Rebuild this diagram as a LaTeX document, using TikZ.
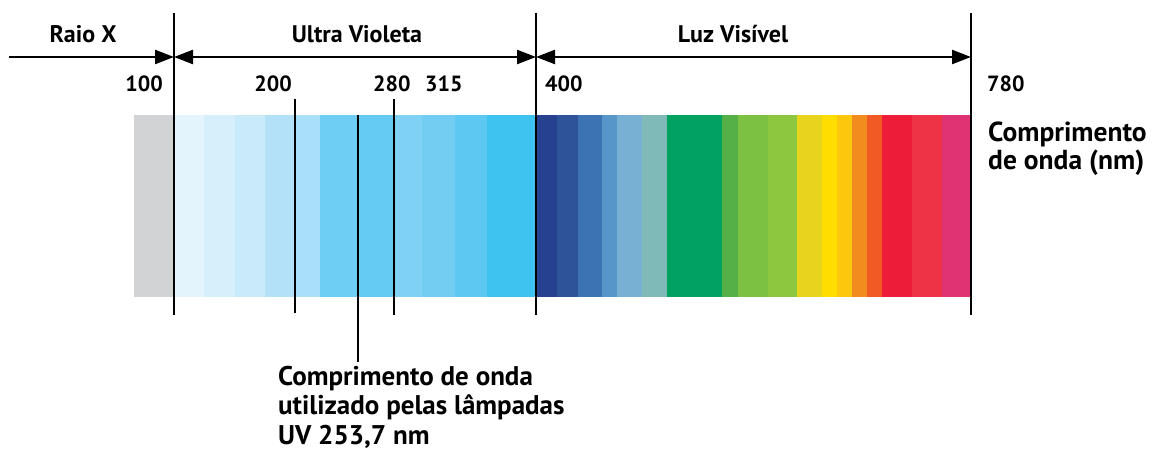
\documentclass[tikz,border=0pt]{standalone}
\usepackage{fontspec}
\setmainfont{PT Sans}
\usetikzlibrary{arrows.meta}
\definecolor{gr}{HTML}{D1D3D4}
\definecolor{u1}{HTML}{E3F4FC}
\definecolor{u2}{HTML}{D5EFFB}
\definecolor{u3}{HTML}{C8EAF9}
\definecolor{u4}{HTML}{B3E2F8}
\definecolor{u5}{HTML}{A9DFF8}
\definecolor{u6}{HTML}{6ECEF3}
\definecolor{u7}{HTML}{66CBF2}
\definecolor{u8}{HTML}{80D2F4}
\definecolor{u9}{HTML}{73CDF3}
\definecolor{u10}{HTML}{5DC8F2}
\definecolor{u11}{HTML}{3EC3F1}
\definecolor{v1}{HTML}{25418F}
\definecolor{v2}{HTML}{2F5398}
\definecolor{v3}{HTML}{3B73B3}
\definecolor{v4}{HTML}{5796C9}
\definecolor{v5}{HTML}{78B0D4}
\definecolor{v6}{HTML}{7FBAB8}
\definecolor{v7}{HTML}{00A161}
\definecolor{v8}{HTML}{55B047}
\definecolor{v9}{HTML}{7CC142}
\definecolor{v10}{HTML}{8DC63F}
\definecolor{v11}{HTML}{E8D41C}
\definecolor{v12}{HTML}{FFDD00}
\definecolor{v13}{HTML}{FDC70E}
\definecolor{v14}{HTML}{F38C1F}
\definecolor{v15}{HTML}{F15A24}
\definecolor{v16}{HTML}{ED1C38}
\definecolor{v17}{HTML}{EE3347}
\definecolor{v18}{HTML}{E03374}
\tikzset{
  lbl/.style={font=\fontsize{24}{28}\selectfont\bfseries, inner sep=0pt},
  num/.style={font=\fontsize{22}{26}\selectfont\bfseries, inner sep=0pt},
  rule/.style={line width=2.4pt, black},
  arr/.style={line width=2.4pt, black, arrows={-Triangle[length=19pt,width=14pt]}},
  darr/.style={line width=2.4pt, black, arrows={Triangle[length=19pt,width=14pt]-Triangle[length=19pt,width=14pt]}},
}
\begin{document}
\begin{tikzpicture}[x=1pt,y=-1pt]
\useasboundingbox (0,0) rectangle (1152,452);
% spectrum bands
\foreach \a/\b/\c in {134/174/gr,174/204/u1,204/235/u2,235/265/u3,265/295/u4,295/320/u5,320/360/u6,360/394/u7,394/422/u8,422/455/u9,455/487/u10,487/536/u11,
  536/557/v1,557/578/v2,578/602/v3,602/617/v4,617/642/v5,642/667/v6,667/722/v7,722/738/v8,738/768/v9,768/797/v10,797/822/v11,822/837/v12,837/852/v13,852/867/v14,867/882/v15,882/912/v16,912/942/v17,942/972/v18}
  \fill[\c] (\a,115) rectangle (\b,297);
% coordinates
\coordinate (l100t) at (174,13);  \coordinate (l100b) at (174,315);
\coordinate (l400t) at (536,13);  \coordinate (l400b) at (536,315);
\coordinate (l780t) at (971,13);  \coordinate (l780b) at (971,315);
\coordinate (l200t) at (295,99);  \coordinate (l200b) at (295,313);
\coordinate (l280t) at (394,99);  \coordinate (l280b) at (394,315);
\coordinate (l254t) at (358,115); \coordinate (l254b) at (358,362);
\coordinate (xs) at (9,57);
\coordinate (a100) at (174,57);
\coordinate (a400) at (536,57);
\coordinate (a780) at (971,57);
% vertical rules
\draw[rule] (l100t) -- (l100b);
\draw[rule] (l400t) -- (l400b);
\draw[rule] (l780t) -- (l780b);
\draw[rule] (l200t) -- (l200b);
\draw[rule] (l280t) -- (l280b);
\draw[rule] (l254t) -- (l254b);
% arrows
\draw[arr] (xs) -- (a100);
\draw[darr] (a100) -- (a400);
\draw[darr] (a400) -- (a780);
% labels
\node[lbl, anchor=base] (raiox) at (83,43) {Raio X};
\node[lbl, anchor=base] (uv) at (357,43) {Ultra Violeta};
\node[lbl, anchor=base] (luz) at (733,43) {Luz Visível};
\node[num, anchor=base east] (n100) at (163,92) {100};
\node[num, anchor=base east] (n200) at (292,92) {200};
\node[num, anchor=base west] (n280) at (373,92) {280};
\node[num, anchor=base west] (n315) at (425,92) {315};
\node[num, anchor=base west] (n400) at (545,92) {400};
\node[num, anchor=base west] (n780) at (987,92) {780};
\node[font=\fontsize{27.5}{28}\selectfont\bfseries, inner sep=0pt, align=left, anchor=north west] (comp) at (988,122) {Comprimento\\de onda (nm)};
\node[font=\fontsize{27}{29.5}\selectfont\bfseries, inner sep=0pt, align=left, anchor=north west] (lamp) at (278,366) {Comprimento de onda\\utilizado pelas lâmpadas\\UV 253,7 nm};
\end{tikzpicture}
\end{document}
